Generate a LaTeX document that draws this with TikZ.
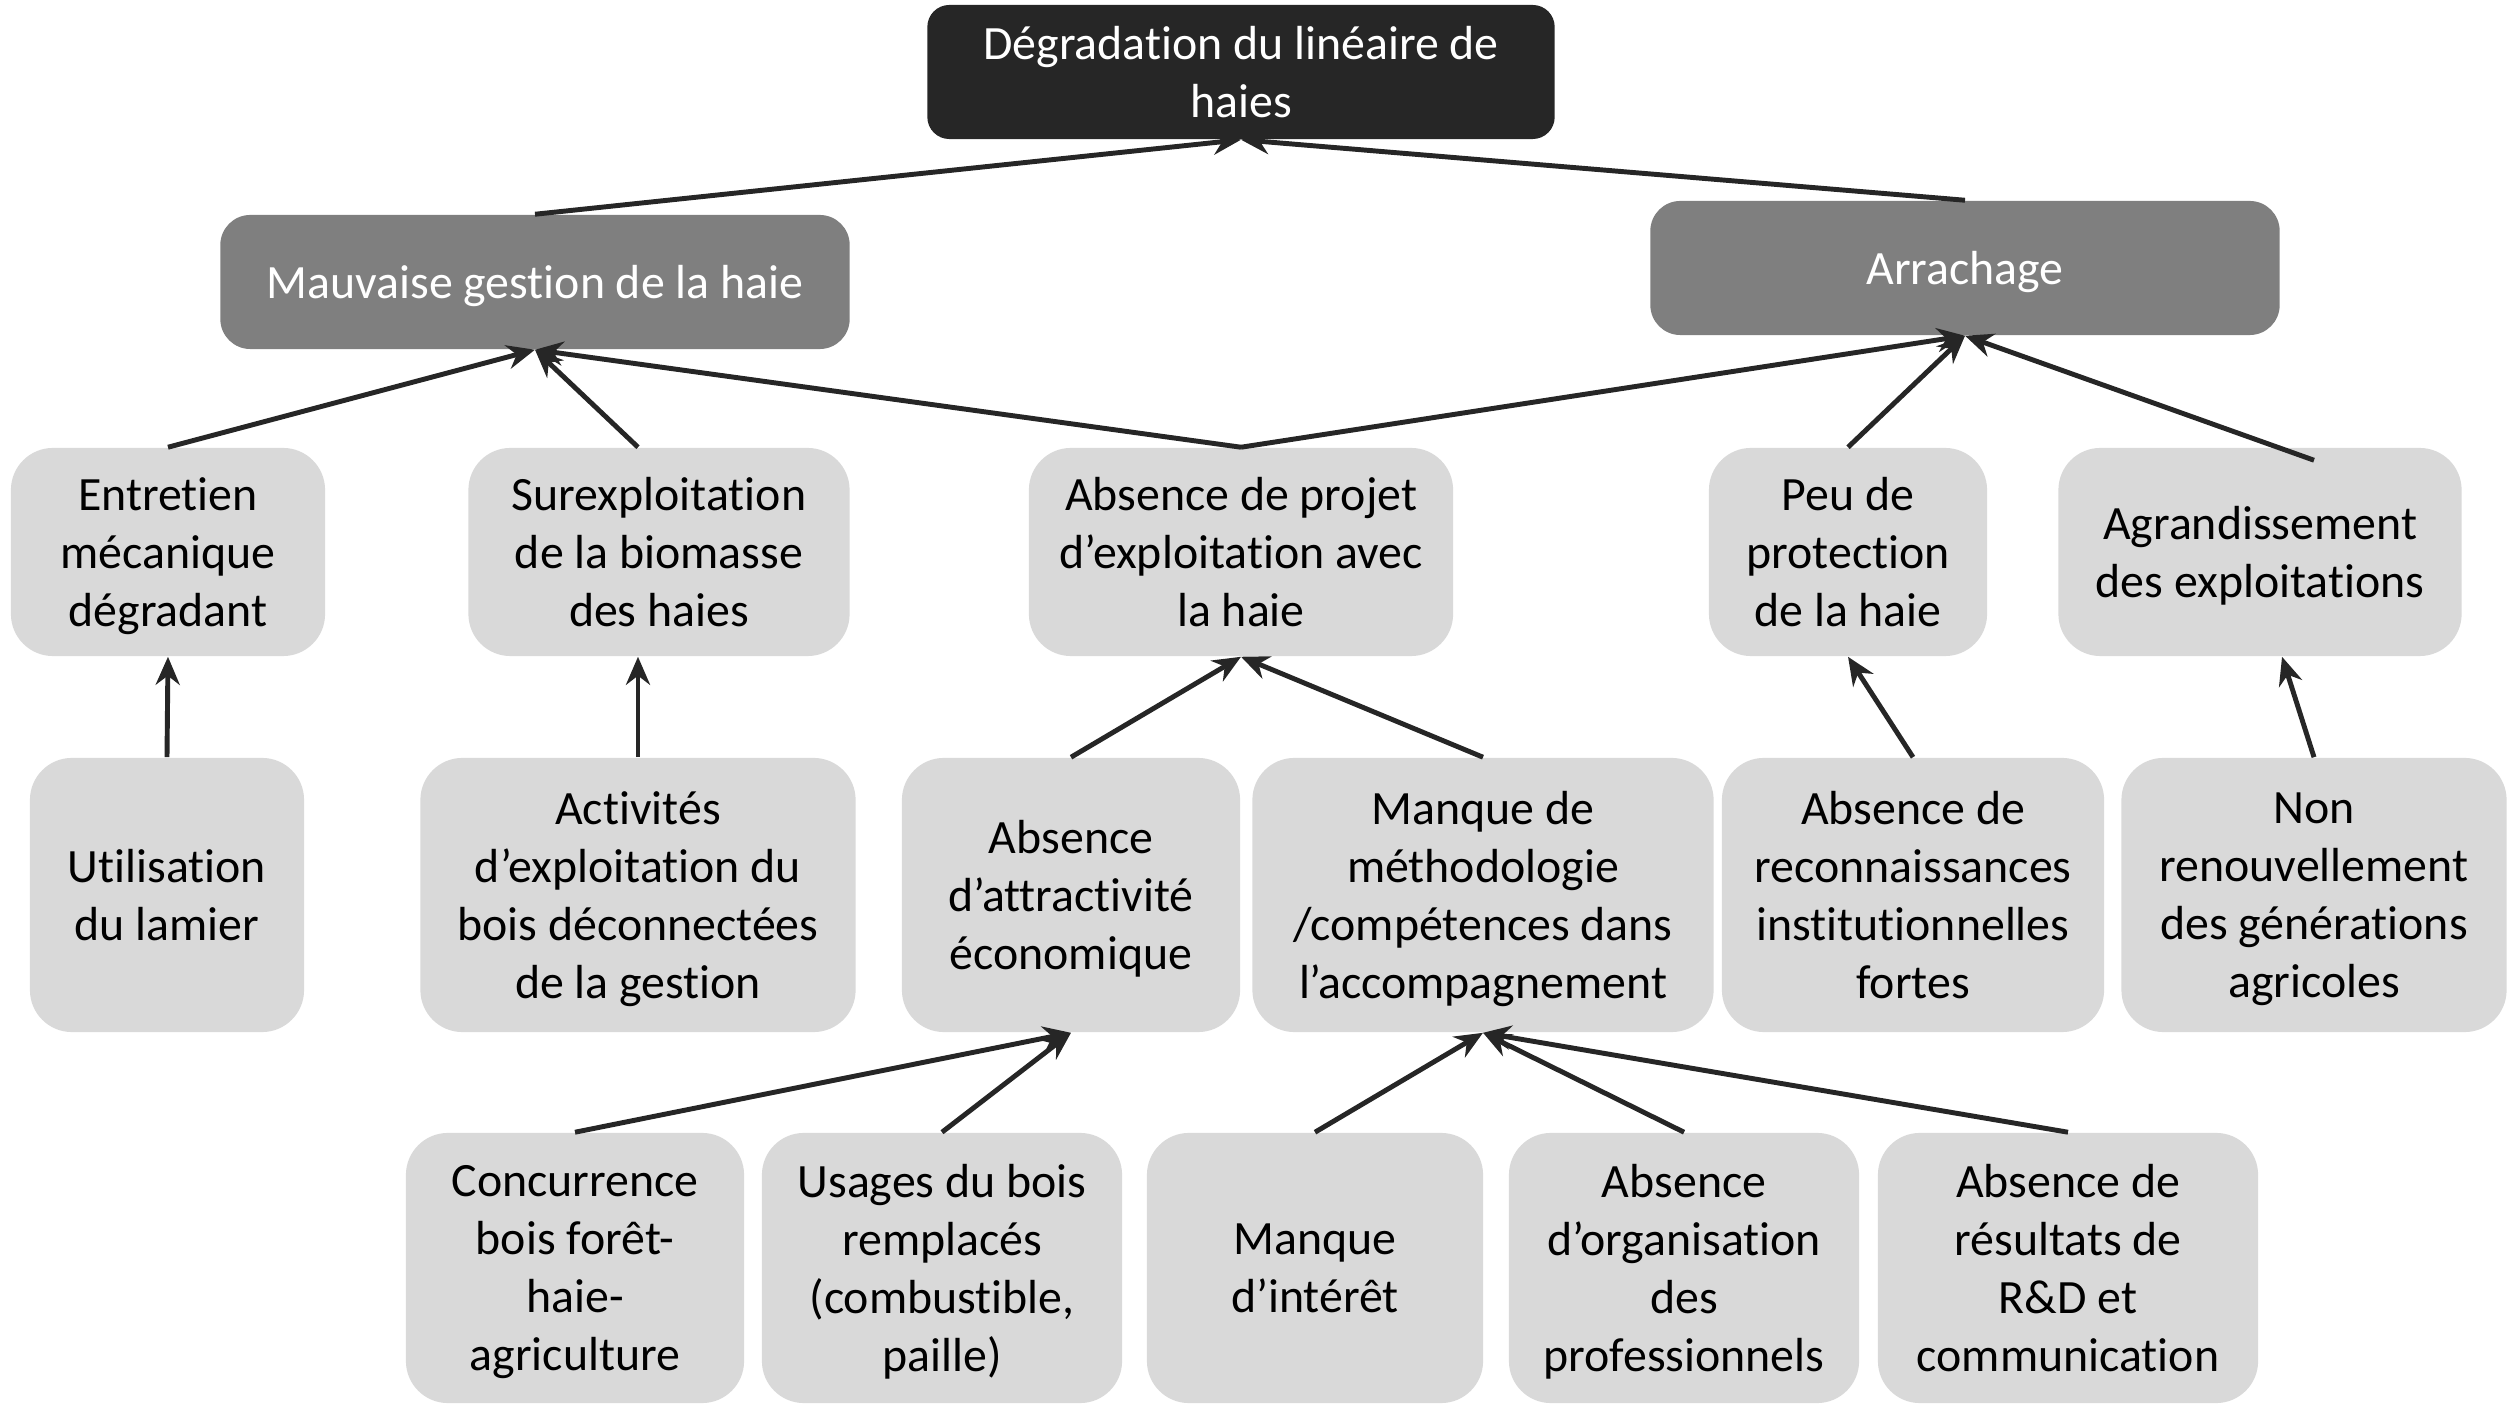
\documentclass[tikz,border=0pt]{standalone}
\usepackage{fontspec}
\setmainfont{Carlito}[Ligatures=NoCommon]
\usetikzlibrary{arrows.meta}
\definecolor{darkbox}{HTML}{262626}
\definecolor{midbox}{HTML}{7F7F7F}
\definecolor{lightbox}{HTML}{D9D9D9}
\definecolor{linecol}{HTML}{262626}
\begin{document}
\begin{tikzpicture}[x=0.01cm, y=-0.01cm]
  \tikzset{
    topbox/.style={rectangle, rounded corners=0.22cm, fill=darkbox, text=white, align=center,
                   minimum width=6.27cm, minimum height=1.34cm, inner sep=0pt, font=\fontsize{13.6}{16.5}\selectfont},
    branch/.style={rectangle, rounded corners=0.3cm, fill=midbox, text=white, align=center,
                   minimum width=6.29cm, minimum height=1.34cm, inner sep=0pt, font=\fontsize{13.6}{16.5}\selectfont,
                   execute at begin node=\rule{0pt}{12pt}},
    cause/.style={rectangle, rounded corners=0.42cm, fill=lightbox, text=black, align=center,
                  inner sep=0pt, text depth=0pt, font=\fontsize{13.6}{16.5}\selectfont},
    link/.style={-{Stealth[length=0.28cm, width=0.24cm]}, line width=1.4pt, draw=linecol},
  }
  \useasboundingbox (0,0) rectangle (2509,1404);
  % Top problem
  \node[topbox] (top) at (1241,72) {Dégradation du linéaire de\\haies};
  % Main branches
  \node[branch] (mauv) at (535,282) {Mauvaise gestion de la haie};
  \node[branch] (arr) at (1965,268) {Arrachage};
  % Second row
  \node[cause, minimum width=3.14cm, minimum height=2.08cm] (ent) at (168,552) {Entretien\\mécanique\\dégradant};
  \node[cause, minimum width=3.81cm, minimum height=2.08cm] (sur) at (659,552) {Surexploitation\\de la biomasse\\des haies};
  \node[cause, minimum width=4.24cm, minimum height=2.08cm] (proj) at (1241,552) {Absence de projet\\d’exploitation avec\\la haie};
  \node[cause, minimum width=2.78cm, minimum height=2.08cm] (peu) at (1848,552) {Peu de\\protection\\de la haie};
  \node[cause, minimum width=4.03cm, minimum height=2.08cm] (agr) at (2260,552) {Agrandissement\\des exploitations};
  % Third row
  \node[cause, minimum width=2.74cm, minimum height=2.74cm] (uti) at (167,895) {Utilisation\\du lamier};
  \node[cause, minimum width=4.35cm, minimum height=2.74cm] (act) at (638,895) {Activités\\d’exploitation du\\bois déconnectées\\de la gestion};
  \node[cause, minimum width=3.38cm, minimum height=2.74cm] (attr) at (1071,895) {Absence\\d’attractivité\\économique};
  \node[cause, minimum width=4.61cm, minimum height=2.74cm] (meth) at (1483,895) {Manque de\\méthodologie\\/compétences dans\\l’accompagnement};
  \node[cause, minimum width=3.82cm, minimum height=2.74cm] (reco) at (1913,895) {Absence de\\reconnaissances\\institutionnelles\\fortes};
  \node[cause, minimum width=3.85cm, minimum height=2.74cm] (nonr) at (2314,895) {Non\\renouvellement\\des générations\\agricoles};
  % Bottom row
  \node[cause, minimum width=3.38cm, minimum height=2.70cm] (conc) at (575,1268) {Concurrence\\bois forêt-\\haie-\\agriculture};
  \node[cause, minimum width=3.60cm, minimum height=2.70cm] (usa) at (942,1268) {Usages du bois\\remplacés\\(combustible,\\paille)};
  \node[cause, minimum width=3.36cm, minimum height=2.70cm] (inte) at (1315,1268) {Manque\\d’intérêt};
  \node[cause, minimum width=3.50cm, minimum height=2.70cm] (orga) at (1684,1268) {Absence\\d’organisation\\des\\professionnels};
  \node[cause, minimum width=3.80cm, minimum height=2.70cm] (rd) at (2068,1268) {Absence de\\résultats de\\R\&D et\\communication};
  % Links
  \draw[link] (mauv.north) -- (top.south);
  \draw[link] (arr.north) -- (top.south);
  \draw[link] (ent.north) -- (mauv.south);
  \draw[link] (act.north |- sur.north) -- (mauv.south);
  \draw[link] (proj.north) -- (mauv.south);
  \draw[link] (proj.north) -- (arr.south);
  \draw[link] (peu.north) -- (arr.south);
  \draw[link] ([yshift=-0.13cm]nonr.north |- agr.north) -- (arr.south);
  \draw[link] (uti.north) -- (ent.south);
  \draw[link] (act.north) -- (act.north |- sur.south);
  \draw[link] (attr.north) -- (proj.south);
  \draw[link] (meth.north) -- (proj.south);
  \draw[link] (reco.north) -- (peu.south);
  \draw[link] (nonr.north) -- ([xshift=0.22cm]agr.south);
  \draw[link] (conc.north) -- (attr.south);
  \draw[link] (usa.north) -- (attr.south);
  \draw[link] (inte.north) -- (meth.south);
  \draw[link] (orga.north) -- (meth.south);
  \draw[link] (rd.north) -- (meth.south);
\end{tikzpicture}
\end{document}
